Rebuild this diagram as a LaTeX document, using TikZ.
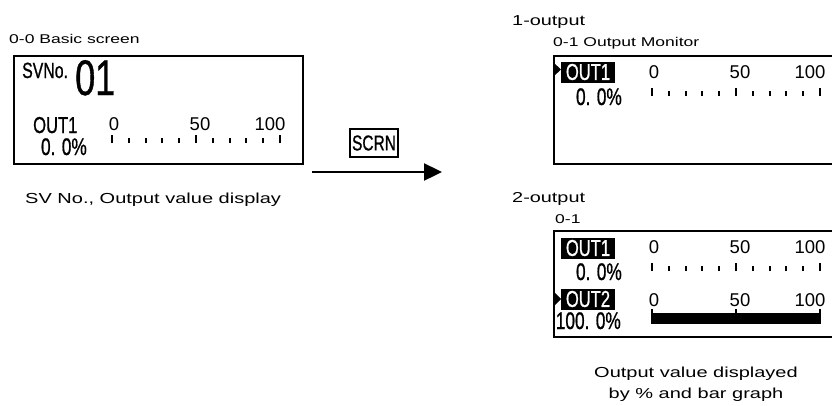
\documentclass[tikz,border=0pt]{standalone}
\usepackage{fontspec}
\setmainfont{Liberation Sans}
\newfontfamily\capfont[FakeStretch=1.38]{Liberation Sans}
\newfontfamily\lcdfont[FakeStretch=0.72, FakeBold=0.8]{Liberation Sans}
\usetikzlibrary{arrows.meta, positioning}

\begin{document}
\begin{tikzpicture}[
  x=1pt, y=-1pt,
  screen/.style={draw, line width=1.8pt, rectangle, minimum width=289pt, minimum height=108pt, anchor=north west, inner sep=0pt},
  caption/.style={inner sep=0pt, anchor=base west, font=\capfont\fontsize{14.5}{21}\selectfont},
  header/.style={inner sep=0pt, anchor=base west, font=\capfont\fontsize{14.4}{17}\selectfont},
  title/.style={inner sep=0pt, anchor=base west, font=\capfont\fontsize{12.7}{15}\selectfont},
  lcd/.style={inner sep=0pt, font=\lcdfont\fontsize{24}{26}\selectfont},
  hilite/.style={fill=black, text=white, minimum width=54pt, minimum height=21pt, inner sep=0pt, font=\lcdfont\fontsize{23}{25}\selectfont},
  scl/.style={inner sep=0pt, anchor=base, font=\fontsize{18.5}{20}\selectfont},
  tick/.style={line width=2pt},
  cursor/.style={fill=black}
]
  \clip (0,0) rectangle (832,405);

  % Basic screen (left)
  \node[title] (basictitle) at (9,43) {0-0 Basic screen};
  \node[screen] (basicscr) at (13,55) {};
  \node[lcd, anchor=base west, font=\lcdfont\fontsize{22}{24}\selectfont] (svno) at (22,78) {SVNo.};
  \node[lcd, anchor=base west, font=\lcdfont\fontsize{50}{52}\selectfont] (svnum) at (75,95) {01};
  \node[lcd, anchor=base west, font=\lcdfont\fontsize{23}{25}\selectfont] (bout1) at (33,133) {OUT1};
  \node[lcd, anchor=base east] (bval1) at (87,155) {0. 0\%};
  \node[caption] (basiccap) at (25,203) {SV No., Output value display};

  % Key and arrow
  \node[draw, line width=1.2pt, minimum width=48pt, minimum height=28pt, inner sep=0pt, font=\lcdfont\fontsize{21.5}{23}\selectfont] (scrn) at (374,143) {SCRN};
  \coordinate (arrS) at (312,172);
  \coordinate (arrE) at (442,172);
  \draw[-{Triangle[length=18pt,width=17pt]}, line width=2.4pt] (arrS) -- (arrE);

  % 1-output monitor
  \node[header] (oneout) at (512,25) {1-output};
  \node[title] (montitle) at (553,46) {0-1 Output Monitor};
  \node[screen] (monscr) at (553,55) {};
  \fill[cursor] (554,63) -- (561,69.5) -- (554,76) -- cycle;
  \node[hilite] (mout1) at (588,72) {OUT1};
  \node[lcd, anchor=base east] (mval1) at (622,105) {0. 0\%};

  % 2-output monitor
  \node[header] (twoout) at (512,202) {2-output};
  \node[title] (mon2title) at (555,223) {0-1};
  \node[screen, minimum height=106pt] (mon2scr) at (553,230) {};
  \node[hilite] (m2out1) at (588,248) {OUT1};
  \node[lcd, anchor=base east] (m2val1) at (622,280) {0. 0\%};
  \fill[cursor] (554,292) -- (561,299) -- (554,306) -- cycle;
  \node[hilite] (m2out2) at (588,299) {OUT2};
  \node[lcd, anchor=base east] (m2val2) at (621,329) {100. 0\%};
  \node[caption, anchor=base, align=center] (mon2cap) at (696,398) {Output value displayed\\by \% and bar graph};

  % scale labels
  \foreach \sx/\sy/\nm in {112/130/a, 652/78/b, 652/253/c, 652/306/d} {
    \node[scl] (\nm0) at ({\sx+2},\sy) {0};
    \node[scl] (\nm50) at ({\sx+88},\sy) {50};
    \node[scl] (\nm100) at ({\sx+158},\sy) {100};
  }

  % scale ticks
  \foreach \sx/\sy in {112/143, 652/96, 652/271} {
    \foreach \i in {0,5,10} \draw[tick] ({\sx+16.8*\i},\sy) -- ++(0,-8);
    \foreach \i in {1,2,3,4,6,7,8,9} \draw[tick] ({\sx+16.8*\i},\sy) -- ++(0,-5);
  }

  % bar graph of OUT2
  \fill (651,313) rectangle (821,324);
  \draw[line width=2pt] (652,309) -- (652,324);
  \draw[line width=2pt] (820,309) -- (820,324);
  \draw[line width=1.4pt] (736,309) -- (736,313);

\end{tikzpicture}
\end{document}
